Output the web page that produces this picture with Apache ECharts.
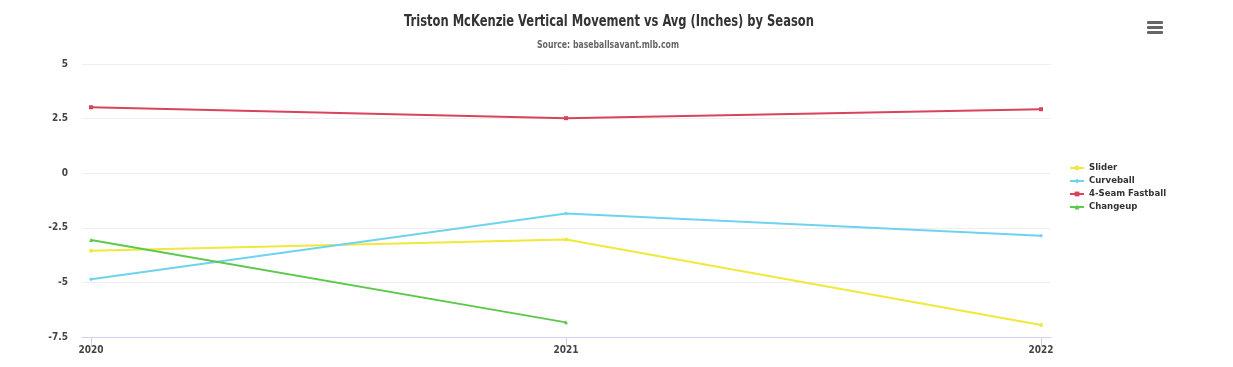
<!DOCTYPE html>
<html>
<head>
<meta charset="utf-8">
<script src="https://cdn.jsdelivr.net/npm/echarts@6/dist/echarts.min.js"></script>
<style>
html,body{margin:0;padding:0;background:#fff;}
#c{width:1233px;height:367px;}
</style>
</head>
<body>
<div id="c"></div>
<script>
var seasons = [2020, 2021, 2022];
var yTicks = [-7.5, -5, -2.5, 0, 2.5, 5];
var slider = [-3.55, -3.04, -6.95];
var curveball = [-4.86, -1.84, -2.86];
var fastball = [3.02, 2.52, 2.93];
var changeup = [-3.06, -6.83, null];
var titleText = 'Triston McKenzie Vertical Movement vs Avg (Inches) by Season';
var subtitleText = 'Source: baseballsavant.mlb.com';

var FONT = '"DejaVu Sans Condensed", "Liberation Sans Narrow", Roboto, sans-serif';

function pairs(vals) {
  return seasons.map(function (s, i) { return [s, vals[i]]; });
}
function mk(name, vals, color, symbol) {
  return {
    name: name, type: 'line', data: pairs(vals),
    symbol: symbol, symbolSize: 4, showSymbol: true,
    lineStyle: { color: color, width: 2 },
    itemStyle: { color: color },
    connectNulls: false,
    emphasis: { disabled: true }
  };
}

var chart = echarts.init(document.getElementById('c'), null, { renderer: 'canvas' });
chart.setOption({
  animation: false,
  backgroundColor: '#fff',
  legend: {
    orient: 'vertical', left: 1069, top: 163, itemGap: 3, padding: 0,
    itemWidth: 14, itemHeight: 6,
    textStyle: { fontFamily: FONT, fontSize: 9.5, fontWeight: 'bold', color: '#333' },
    data: ['Slider', 'Curveball', '4-Seam Fastball', 'Changeup']
  },
  grid: { left: 82, right: 182, top: 64, bottom: 30, containLabel: false },
  xAxis: {
    type: 'value', min: 2019.981, max: 2022.021,
    axisLine: { show: true, onZero: false, lineStyle: { color: '#ccd6eb', width: 1 } },
    axisTick: { show: true, customValues: seasons, length: 9, lineStyle: { color: '#ccd6eb' } },
    axisLabel: { customValues: seasons, fontFamily: FONT, fontSize: 10, fontWeight: 'bold', color: '#444', margin: 8,
      formatter: function (v) { return String(Math.round(v)); } },
    splitLine: { show: false }
  },
  yAxis: {
    type: 'value', min: -7.5, max: 5, interval: 2.5,
    axisLine: { show: false }, axisTick: { show: false },
    axisLabel: { fontFamily: FONT, fontSize: 10, fontWeight: 'bold', color: '#444', margin: 14,
      formatter: function (v) { return String(v); } },
    splitLine: { lineStyle: { color: '#eeeeee', width: 1 } }
  },
  series: [
    mk('Slider', slider, '#f0e83a', 'circle'),
    mk('Curveball', curveball, '#6fd3f0', 'diamond'),
    mk('4-Seam Fastball', fastball, '#d9435b', 'rect'),
    mk('Changeup', changeup, '#5ec84b', 'triangle')
  ],
  graphic: [
    { type: 'text', x: 609, y: 22, scaleX: 0.8,
      style: { text: titleText, textAlign: 'center', textVerticalAlign: 'middle',
        font: 'bold 16px ' + FONT, fill: '#333' } },
    { type: 'text', x: 608, y: 45, scaleX: 0.86,
      style: { text: subtitleText, textAlign: 'center', textVerticalAlign: 'middle',
        font: 'bold 10px ' + FONT, fill: '#666' } },
    { type: 'rect', x: 1147, y: 21, shape: { width: 16, height: 3, r: 1 }, style: { fill: '#666' } },
    { type: 'rect', x: 1147, y: 26, shape: { width: 16, height: 3, r: 1 }, style: { fill: '#666' } },
    { type: 'rect', x: 1147, y: 31, shape: { width: 16, height: 3, r: 1 }, style: { fill: '#666' } }
  ]
});
</script>
</body>
</html>
